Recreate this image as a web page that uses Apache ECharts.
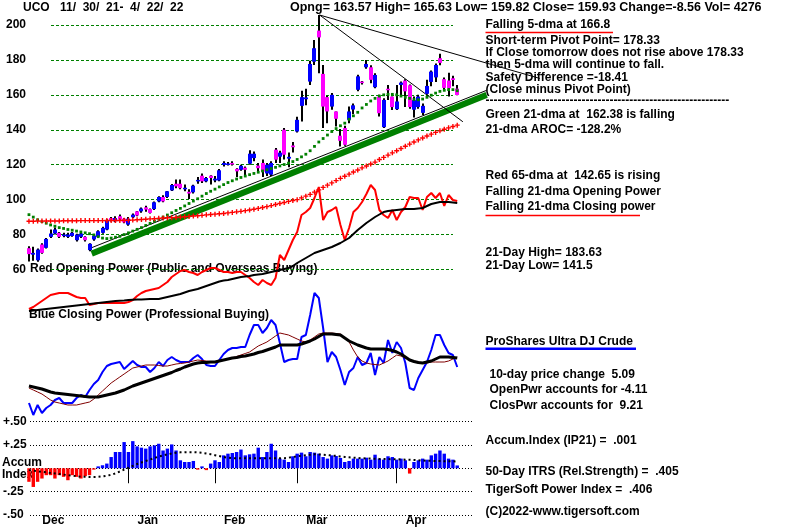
<!DOCTYPE html>
<html><head><meta charset="utf-8">
<script src="https://cdn.jsdelivr.net/npm/echarts@6/dist/echarts.min.js"></script>
<style>html,body{margin:0;padding:0;background:#fff}#c{width:800px;height:530px}</style>
</head><body><div id="c"></div>
<script>
// ---------- data ----------
const dates = ['2021-11-30',
'2021-12-01','2021-12-02','2021-12-03','2021-12-06','2021-12-07','2021-12-08','2021-12-09','2021-12-10','2021-12-13','2021-12-14','2021-12-15','2021-12-16','2021-12-17','2021-12-20','2021-12-21','2021-12-22','2021-12-23','2021-12-27','2021-12-28','2021-12-29','2021-12-30','2021-12-31',
'2022-01-03','2022-01-04','2022-01-05','2022-01-06','2022-01-07','2022-01-10','2022-01-11','2022-01-12','2022-01-13','2022-01-14','2022-01-18','2022-01-19','2022-01-20','2022-01-21','2022-01-24','2022-01-25','2022-01-26','2022-01-27','2022-01-28','2022-01-31',
'2022-02-01','2022-02-02','2022-02-03','2022-02-04','2022-02-07','2022-02-08','2022-02-09','2022-02-10','2022-02-11','2022-02-14','2022-02-15','2022-02-16','2022-02-17','2022-02-18','2022-02-22','2022-02-23','2022-02-24','2022-02-25','2022-02-28',
'2022-03-01','2022-03-02','2022-03-03','2022-03-04','2022-03-07','2022-03-08','2022-03-09','2022-03-10','2022-03-11','2022-03-14','2022-03-15','2022-03-16','2022-03-17','2022-03-18','2022-03-21','2022-03-22','2022-03-23','2022-03-24','2022-03-25','2022-03-28','2022-03-29','2022-03-30','2022-03-31',
'2022-04-01','2022-04-04','2022-04-05','2022-04-06','2022-04-07','2022-04-08','2022-04-11','2022-04-12','2022-04-13','2022-04-14','2022-04-18','2022-04-19','2022-04-20','2022-04-21','2022-04-22'];

const monthNames = {'12':'Dec','01':'Jan','02':'Feb','03':'Mar','04':'Apr'};

const open = [
72.2,68.5,65.3,74.3,72.4,78.7,80.6,81.0,79.5,78.7,
79.2,76.8,78.7,78.7,71.1,77.2,78.7,81.0,82.9,89.5,
87.6,90.5,89.1,85.7,89.9,93.3,93.3,95.6,94.6,94.6,
99.0,101.5,101.5,105.3,109.1,109.1,106.5,104.5,104.2,110.5,
113.7,110.5,113.7,111.0,111.0,119.9,120.0,121.0,117.6,117.1,
118.3,120.6,123.8,119.5,121.0,115.0,114.3,128.6,124.6,140.0,
123.5,131.0,139.0,153.7,157.5,167.6,179.0,196.8,172.0,158.7,
153.3,150.5,136.6,141.0,145.7,151.6,162.9,167.6,175.8,175.8,
164.4,159.0,141.5,163.5,159.0,151.8,165.7,168.2,165.5,151.5,
153.0,149.7,160.6,167.4,170.0,181.0,169.0,168.2,169.5,163.57];
const close = [
68.8,69.5,71.4,69.5,77.5,80.6,82.9,78.7,80.0,80.0,
81.0,80.0,80.6,76.8,74.7,79.4,81.9,83.8,88.2,88.2,
89.5,88.6,87.0,89.1,91.4,90.9,94.9,94.3,92.4,98.5,
101.5,99.0,104.8,108.4,107.6,106.6,106.8,103.5,108.0,111.3,
110.5,112.4,112.4,112.0,116.8,121.0,120.7,120.3,116.2,119.4,
117.1,126.3,126.3,118.0,116.0,120.0,121.0,122.9,126.9,125.7,
124.5,130.0,145.7,158.7,158.5,177.7,186.7,192.9,153.3,150.5,
160.0,146.3,133.7,131.4,150.5,154.0,170.6,166.8,177.7,168.6,
171.4,149.5,157.1,163.2,153.0,156.2,167.0,162.0,153.0,157.0,
159.0,153.7,165.1,173.3,177.1,178.3,164.0,163.8,168.49,159.93];
const low = [
64.6,65.0,64.5,69.0,72.0,78.0,80.0,78.0,78.5,78.0,
78.8,76.0,78.0,76.0,70.5,76.5,78.0,80.5,82.5,87.5,
87.0,88.0,86.5,85.0,89.5,90.5,92.5,93.0,92.0,94.0,
98.5,98.5,101.0,105.0,106.5,106.0,104.8,100.4,103.5,109.1,
109.5,110.0,108.6,110.0,110.5,119.0,119.5,119.5,113.0,116.5,
114.0,120.0,122.0,115.4,113.0,113.5,113.5,121.0,121.0,123.0,
118.5,127.0,138.5,144.8,154.0,165.7,177.1,172.4,141.0,143.8,
151.5,141.9,130.5,130.8,143.8,149.0,162.0,166.0,175.0,166.6,
163.8,147.6,141.0,157.0,151.4,151.4,159.0,153.0,152.0,147.0,
152.0,148.5,160.0,165.0,167.4,177.0,162.9,159.0,165.0,159.82];
const high = [
73.3,73.0,72.0,75.0,78.0,82.9,84.0,81.5,81.0,81.0,
81.5,80.5,81.0,79.0,75.0,80.0,82.5,84.5,88.8,90.0,
90.5,91.5,89.5,90.0,92.0,93.5,95.5,96.5,95.0,99.0,
102.0,102.5,105.0,109.0,111.5,111.5,108.6,106.0,108.5,113.0,
115.0,113.0,114.0,113.5,117.5,122.0,121.5,122.0,118.0,120.0,
119.0,128.3,127.5,121.0,123.0,121.0,122.0,129.5,128.0,141.0,
127.0,133.0,147.5,162.3,163.5,179.6,191.4,205.7,177.1,159.5,
161.0,150.5,140.5,142.3,153.3,155.0,171.5,168.0,180.0,177.0,
172.4,160.0,158.0,165.7,159.0,165.7,167.6,169.0,166.0,159.0,
160.0,155.0,168.6,174.0,178.0,183.6,170.0,172.7,171.0,165.63];

const ma21 = [
91.4,90.0,88.5,87.4,86.5,85.5,84.8,84.0,83.5,82.9,
82.5,82.0,81.5,81.0,80.5,79.8,78.8,78.0,77.7,78.0,
78.5,79.0,80.0,81.0,82.0,83.0,84.0,85.2,86.4,87.6,
88.8,90.0,91.2,92.5,93.8,95.0,96.4,97.8,99.2,100.5,
102.0,103.5,104.8,106.0,107.3,108.6,109.8,110.8,111.8,112.7,
113.5,114.3,115.0,115.7,116.4,117.1,117.8,118.5,119.3,120.1,
120.9,121.8,123.0,124.5,126.0,128.0,130.5,133.0,135.0,137.0,
139.0,140.7,142.3,143.8,146.0,148.0,150.0,152.5,154.5,156.5,
158.0,159.3,160.0,160.3,160.3,160.0,159.3,158.6,158.0,157.3,
157.2,157.6,158.6,159.8,161.0,162.0,162.6,163.0,163.0,162.38];
const ma65 = [
87.6,87.6,87.7,87.7,87.8,87.8,87.8,87.8,87.9,87.9,
87.9,87.9,88.0,88.0,88.0,88.0,88.0,88.0,88.1,88.1,
88.1,88.1,88.2,88.2,88.3,88.5,88.6,88.8,89.0,89.1,
89.3,89.5,89.6,89.7,89.8,90.0,90.2,90.4,90.6,90.8,
91.0,91.3,91.5,91.7,91.9,92.1,92.4,92.7,93.0,93.3,
93.7,94.1,94.5,95.0,95.5,96.0,96.6,97.2,97.8,98.4,
99.0,99.5,100.0,101.0,102.0,103.0,104.3,105.6,107.0,108.3,
109.6,110.9,112.2,113.4,114.6,115.8,117.0,118.2,119.3,120.4,
121.5,123.0,124.2,125.5,126.8,128.0,129.3,130.6,131.8,133.0,
134.2,135.3,136.4,137.5,138.5,139.4,140.3,141.1,141.9,142.65];

// trend lines: [dayIndex, price]
const trendSupport = [[14.5, 69.1], [105.8, 160.0]];
const trendSupportEdge = [[13.7, 71.7], [105.8, 162.6]];
const trendSteep = [[67.2, 205.7], [100.3, 144.6]];
const trendFlat = [[67.2, 205.7], [118.1, 169.4]];

// opening power (panel units)
const opPower = [
11,13,16,19,22,25,26,27,27,27,
25,23,22,22,15,16,17,17,17,17,
17,17,17,18,20,24,27,29,30,31,
32,35,38,43,46,49,50,48,47,45,
48,50,52,52,50,48,48,47,48,48,
45,42,38,35,40,37,35,42,65,60,
70,80,88,105,108,112,122,133,100,108,
110,113,95,80,92,108,112,118,126,135,
130,110,105,102,110,100,108,113,123,122,
122,110,123,127,122,127,114,125,120,119];
const opPowerMA = [
9,9.5,10,10.5,11,11.5,12,12.5,13,13.5,
14,14.5,15,15.5,16,16.5,17,17.5,18,18.5,
19,19.3,19.6,20,20.2,20.4,20.6,20.8,21,21,
21,22,23,24,25,26,27.5,29,30,31,
32.5,34,35.5,37,38.5,39.5,40,41,42,43,
43.5,44,45,45.5,46,47,48,49,50,51,
52,54,57,59.5,62,64.5,67,68.5,70,71.5,
73,75,77,79.5,82,86,90,93.5,97,100,
103,105.5,108,109,109.5,110,110.5,111,111,111,
111.5,112,114,116,117,118,118,118,117.5,117];

// closing power (panel units)
const cpPower = [
17,5,15,7,12,15,20,22,17,17,
17,22,25,23,30,36,40,48,54,56,
57,58,51,55,59,55,53,53,48,52,
58,54,60,63,60,58,58,58,62,65,
61,55,54,54,60,66,70,72,72,73,
73,85,95,95,87,92,100,95,77,58,
60,61,61,83,85,105,127,122,92,58,
68,63,50,35,48,52,63,55,57,67,
45,63,57,80,67,78,72,57,32,30,
42,50,58,70,85,85,75,67,65,53];
const cpPowerFast = [
32,30,28,26,23,20,18,17,16,15,
15,15,16,17,18,21,25,29,33,37,
40,43,46,49,52,53,54,55,55,55,
54.5,54,54,55,56,56.5,57,58,59,60,
59.5,59,58.5,58,59,60,61,62,63.5,65,
66.5,68,71,74,76,78,81,84,87,86,
85,83,81,79,78,80,83,86,87,87,
87,86.5,86,82,78,70,63,59,57,56,
55.5,55,57,59,62,65,64,62,60,59,
58,57,57,58,58,58,58,59,61,63];
const cpPowerMA = [
34,33,32,31,29.5,28,27,26.5,26,25.5,
25,24.5,24,23.5,23,23,23,24,25,26,
27,28.5,30,32,34,35.5,37,38.5,40,41.5,
43,44.5,46,47.5,49.5,51,53,54.5,56,57,
57.5,57.5,58,58,59,60,61,62,62.5,63.5,
64,65,66,67.5,68.5,70,71.5,73,75,75,
75,75,75,76,77.5,79,81,83.5,86,86,
86,85.5,85,82,79,77,75,73.5,72,71,
71,71,71,70.5,69.5,68,66,63,60,58.5,
57.5,57,58,59,61,63,63,63,62.5,62];

// accumulation index
const accum = [
-0.145,-0.2,-0.145,-0.11,-0.074,-0.074,-0.11,-0.074,-0.092,-0.128,
-0.074,-0.092,-0.11,-0.085,-0.074,-0.015,0.02,0.032,0.05,0.12,
0.174,0.174,0.28,0.174,0.29,0.234,0.22,0.21,0.234,0.245,
0.262,0.19,0.21,0.255,0.19,0.085,0.067,0.067,0.078,-0.015,
0.02,-0.02,0.05,0.085,0.067,0.138,0.156,0.163,0.174,0.2,
0.138,0.149,0.156,0.22,0.12,0.174,0.262,0.19,0.103,0.092,
0.067,0.128,0.156,0.167,0.128,0.174,0.167,0.156,0.12,0.103,
0.138,0.131,0.11,0.067,0.078,0.103,0.103,0.103,0.113,0.092,
0.145,0.103,0.092,0.128,0.12,0.092,0.103,0.085,-0.057,0.067,
0.085,0.103,0.092,0.138,0.156,0.19,0.156,0.103,0.092,0.03];
const accumMA = [
-0.02,-0.026,-0.032,-0.038,-0.044,-0.05,-0.056,-0.062,-0.068,-0.074,
-0.08,-0.085,-0.09,-0.092,-0.093,-0.093,-0.092,-0.087,-0.08,-0.07,
-0.055,-0.035,-0.015,0.005,0.025,0.045,0.062,0.078,0.093,0.11,
0.125,0.137,0.148,0.158,0.165,0.17,0.172,0.172,0.172,0.17,
0.165,0.158,0.15,0.14,0.13,0.12,0.113,0.108,0.106,0.106,
0.106,0.106,0.106,0.106,0.106,0.106,0.106,0.106,0.106,0.108,
0.113,0.12,0.127,0.134,0.14,0.145,0.149,0.148,0.145,0.141,
0.137,0.132,0.126,0.121,0.117,0.113,0.11,0.107,0.105,0.104,
0.102,0.1,0.099,0.098,0.097,0.096,0.094,0.092,0.09,0.088,
0.085,0.082,0.08,0.079,0.078,0.077,0.076,0.075,0.074,0.073];

const priceTicks = {min: 60, max: 200, step: 20};

const headerTexts = {
  symbol: 'UCO',
  range: '11/  30/  21-  4/  22/  22',
  quote: 'Opng= 163.57 High= 165.63 Low= 159.82 Close= 159.93 Change=-8.56 Vol= 4276'
};

// ---------- chart ----------
const FF = '"Liberation Sans", Arial, Helvetica, sans-serif';
const GL = 26.8, GW = 432.6;
const monthStart = dates.map((d, i) => i > 0 && d.slice(5, 7) !== dates[i - 1].slice(5, 7));

function txt(text, x, y, size) {
  return { type: 'text', x: x, y: y, z: 0, silent: true,
    style: { text: text, fontSize: size || 12, fontWeight: 'bold', fontFamily: FF, fill: '#000',
      align: 'left', verticalAlign: 'middle' } };
}
function hline(x1, x2, y, color, w) {
  return { type: 'line', silent: true, z: 1, shape: { x1: x1, y1: y, x2: x2, y2: y },
    style: { stroke: color, lineWidth: w } };
}

const plus = 'path://M1.8 0H3.2V1.8H5V3.2H3.2V5H1.8V3.2H0V1.8H1.8Z';

function renderCandle(params, api) {
  const i = api.value(0), o = api.value(1), c = api.value(2), l = api.value(3), h = api.value(4);
  const pl = api.coord([i, l]), ph = api.coord([i, h]), po = api.coord([i, o]), pc = api.coord([i, c]);
  const x = Math.round(pl[0]);
  const top = Math.min(po[1], pc[1]), bot = Math.max(po[1], pc[1]);
  return { type: 'group', children: [
    { type: 'rect', shape: { x: x - 1, y: ph[1], width: 2, height: pl[1] - ph[1] }, style: { fill: '#000' } },
    { type: 'rect', shape: { x: x - 2, y: top, width: 4, height: Math.max(bot - top, 1.5) },
      style: { fill: c >= o ? '#0000ff' : '#ff00ff' } }
  ] };
}

const option = {
  animation: false,
  backgroundColor: '#fff',
  textStyle: { fontFamily: FF },
  grid: [
    { left: GL, width: GW, top: 25, height: 244.5 },
    { left: 51, width: 402, top: 25, height: 244.5 },
    { left: GL, width: GW, top: 180, height: 140 },
    { left: GL, width: GW, top: 280, height: 140 },
    { left: GL, width: GW, top: 421.5, height: 93.5 },
    { left: 30, width: 442, top: 421.5, height: 93.5 },
    { left: GL, width: GW * 1.3, top: 25, height: 244.5 }
  ],
  xAxis: [
    { type: 'category', gridIndex: 0, data: dates, show: false },
    { type: 'value', gridIndex: 6, min: -0.5, max: 129.5, show: false },
    { type: 'category', gridIndex: 1, data: dates, show: false },
    { type: 'category', gridIndex: 2, data: dates, show: false },
    { type: 'category', gridIndex: 3, data: dates, show: false },
    { type: 'category', gridIndex: 4, data: dates,
      axisLine: { show: false },
      axisTick: { show: true, alignWithLabel: true, length: 15,
        interval: (i) => monthStart[i], lineStyle: { color: '#000', width: 1 } },
      axisLabel: { interval: (i) => monthStart[i], formatter: (v) => monthNames[v.slice(5, 7)],
        align: 'left', padding: [0, 0, 0, 9], margin: 0, color: '#000',
        fontSize: 12, fontWeight: 'bold', fontFamily: FF },
      splitLine: { show: false } },
    { type: 'category', gridIndex: 5, data: dates, show: false }
  ],
  yAxis: [
    { type: 'value', gridIndex: 0, min: priceTicks.min, max: priceTicks.max, show: false },
    { type: 'value', gridIndex: 1, min: priceTicks.min, max: priceTicks.max, interval: priceTicks.step,
      axisLine: { show: false }, axisTick: { show: false },
      axisLabel: { margin: 25, color: '#000', fontSize: 12, fontWeight: 'bold', fontFamily: FF },
      splitLine: { show: true, lineStyle: { color: '#008000', width: 1, type: [3, 2] } } },
    { type: 'value', gridIndex: 2, min: 0, max: 140, show: false },
    { type: 'value', gridIndex: 3, min: 0, max: 140, show: false },
    { type: 'value', gridIndex: 4, min: -0.5, max: 0.5, show: false },
    { type: 'value', gridIndex: 5, min: -0.5, max: 0.5, interval: 0.25,
      axisLine: { show: false }, axisTick: { show: false },
      axisLabel: { align: 'left', margin: 27, color: '#000', fontSize: 12, fontWeight: 'bold', fontFamily: FF,
        formatter: (v) => v > 0 ? '+' + v.toFixed(2).slice(1) : (v < 0 ? '-' + Math.abs(v).toFixed(2).slice(1) : '') },
      splitLine: { show: true, lineStyle: { color: '#000', width: 1, type: [1, 2] } } },
    { type: 'value', gridIndex: 6, min: priceTicks.min, max: priceTicks.max, show: false }
  ],
  series: [
    { type: 'line', xAxisIndex: 1, yAxisIndex: 6, data: trendSupport, symbol: 'none', clip: false,
      lineStyle: { color: '#008000', width: 6 }, z: 3 },
    { type: 'line', xAxisIndex: 1, yAxisIndex: 6, data: trendSupportEdge, symbol: 'none', clip: false,
      lineStyle: { color: '#000', width: 1 }, z: 3 },
    { type: 'line', xAxisIndex: 1, yAxisIndex: 6, data: trendSteep, symbol: 'none', clip: false,
      lineStyle: { color: '#000', width: 1 }, z: 3 },
    { type: 'line', xAxisIndex: 1, yAxisIndex: 6, data: trendFlat, symbol: 'none', clip: false,
      lineStyle: { color: '#000', width: 1 }, z: 3 },
    // opening power
    { type: 'line', xAxisIndex: 3, yAxisIndex: 2, data: opPower, symbol: 'none',
      lineStyle: { color: '#ff0000', width: 2 }, z: 3 },
    { type: 'line', xAxisIndex: 3, yAxisIndex: 2, data: opPowerMA, symbol: 'none',
      lineStyle: { color: '#000', width: 2 }, z: 3 },
    // closing power
    { type: 'line', xAxisIndex: 4, yAxisIndex: 3, data: cpPower, symbol: 'none',
      lineStyle: { color: '#0000ff', width: 2 }, z: 3 },
    { type: 'line', xAxisIndex: 4, yAxisIndex: 3, data: cpPowerFast, symbol: 'none',
      lineStyle: { color: '#800000', width: 1 }, z: 3 },
    { type: 'line', xAxisIndex: 4, yAxisIndex: 3, data: cpPowerMA, symbol: 'none',
      lineStyle: { color: '#000', width: 3 }, z: 3 },
    // candles
    { type: 'custom', xAxisIndex: 0, yAxisIndex: 0, clip: false, z: 5,
      data: open.map((o, i) => [i, o, close[i], low[i], high[i]]),
      encode: { x: 0, y: [1, 2, 3, 4] },
      renderItem: renderCandle },
    // moving averages
    { type: 'line', xAxisIndex: 0, yAxisIndex: 0, data: ma21, showSymbol: true, showAllSymbol: true,
      symbol: 'rect', symbolSize: 2.8, lineStyle: { opacity: 0 }, itemStyle: { color: '#008000' }, z: 6 },
    { type: 'line', xAxisIndex: 0, yAxisIndex: 0, data: ma65, showSymbol: true, showAllSymbol: true,
      symbol: plus, symbolSize: 5, lineStyle: { opacity: 0 }, itemStyle: { color: '#ff0000' }, z: 6 },
    // accumulation
    { type: 'bar', xAxisIndex: 5, yAxisIndex: 4, data: accum, barWidth: 3.4,
      itemStyle: { color: (p) => p.value >= 0 ? '#0000ff' : '#ff0000' }, z: 3 },
    { type: 'line', xAxisIndex: 5, yAxisIndex: 4, data: accumMA, symbol: 'none',
      lineStyle: { color: '#000', width: 2, type: [2, 3] }, z: 4 }
  ],
  graphic: { elements: [
    txt(headerTexts.symbol, 23, 7.5),
    txt(headerTexts.range, 60, 7.5),
    txt(headerTexts.quote, 290, 7.5, 12.5),
    txt('Falling 5-dma at 166.8', 485.5, 25),
    hline(485.5, 613, 32.5, '#ff0000', 1.5),
    txt('Short-term Pivot Point= 178.33', 485.5, 41),
    txt('If Close tomorrow does not rise above 178.33', 485.5, 53),
    txt('then 5-dma will continue to fall.', 485.5, 65),
    txt('Safety Difference =-18.41', 485.5, 78),
    txt('(Close minus Pivot Point)', 485.5, 90),
    txt('-'.repeat(61), 485.5, 101),
    txt('Green 21-dma at  162.38 is falling', 485.5, 115),
    txt('21-dma AROC= -128.2%', 485.5, 129.5),
    txt('Red 65-dma at  142.65 is rising', 485.5, 176),
    txt('Falling 21-dma Opening Power', 485.5, 192),
    txt('Falling 21-dma Closing power', 485.5, 206.5),
    hline(485.5, 640, 215.5, '#ff0000', 1.5),
    txt('21-Day High= 183.63', 485.5, 253),
    txt('21-Day Low= 141.5', 485.5, 265.5),
    txt('Red Opening Power (Public and Overseas Buying)', 30, 269),
    txt('Blue Closing Power (Professional Buying)', 29, 315),
    txt('ProShares Ultra DJ Crude', 485.5, 342),
    hline(485.5, 636, 348.7, '#0000ff', 2.5),
    txt('10-day price change  5.09', 489.5, 375),
    txt('OpenPwr accounts for -4.11', 489.5, 389.5),
    txt('ClosPwr accounts for  9.21', 489.5, 405.5),
    txt('Accum', 2, 463),
    txt('Index', 2, 474.5),
    txt('Accum.Index (IP21) =  .001', 485.5, 441),
    txt('50-Day ITRS (Rel.Strength) =  .405', 485.5, 471.5),
    txt('TigerSoft Power Index =  .406', 485.5, 490),
    txt('(C)2022-www.tigersoft.com', 485.5, 511.5)
  ] }
};

const chart = echarts.init(document.getElementById('c'), null, { renderer: 'canvas' });
chart.setOption(option);
</script>
</body></html>
